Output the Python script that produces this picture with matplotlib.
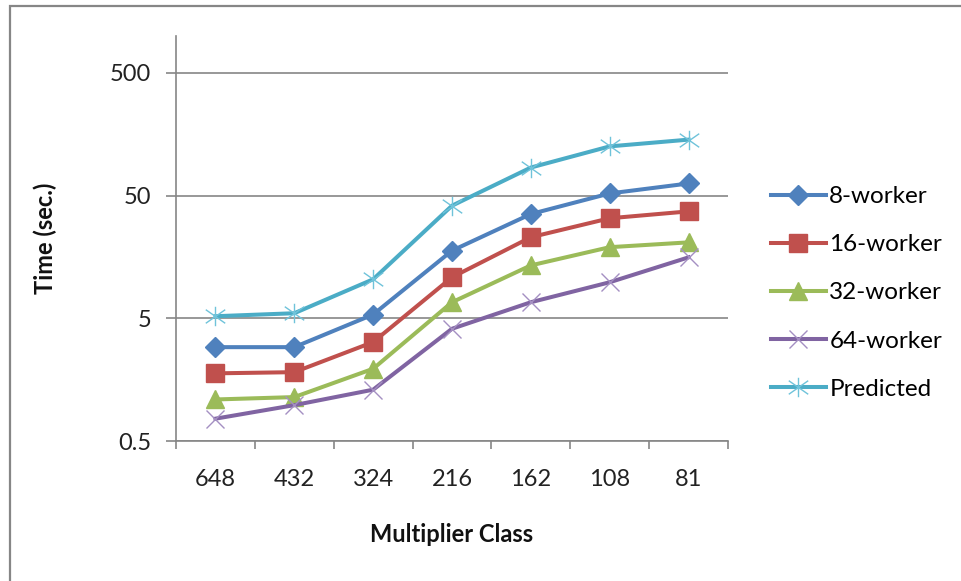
import matplotlib
matplotlib.use("Agg")
import matplotlib.pyplot as plt
from matplotlib.patches import Rectangle
from matplotlib.path import Path
from matplotlib.ticker import FixedLocator, NullLocator

plt.rcParams['font.family'] = ['Lato', 'DejaVu Sans']

classes = ["648", "432", "324", "216", "162", "108", "81"]
w8 = [2.91, 2.91, 5.37, 17.8, 35.4, 52.1, 62.8]
w16 = [1.78, 1.82, 3.2, 10.8, 22.9, 32.7, 37.2]
w32 = [1.09, 1.14, 1.94, 6.76, 13.5, 19.0, 20.8]
w64 = [0.76, 0.98, 1.31, 4.11, 6.76, 9.84, 15.7]
predicted = [5.2, 5.5, 10.4, 41.4, 84.7, 126, 143]

y_ticks = [0.5, 5, 50, 500]
grey = "#868686"

# asterisk-style marker: x with a vertical bar
star = Path([(-1, -0.7), (1, 0.7), (-1, 0.7), (1, -0.7), (0, -1), (0, 1)],
            [Path.MOVETO, Path.LINETO, Path.MOVETO, Path.LINETO,
             Path.MOVETO, Path.LINETO])

fig = plt.figure(figsize=(9.61, 5.81), dpi=100)
ax = fig.add_axes([176 / 961, 1 - 441 / 581, 552 / 961, 405 / 581])

x = range(len(classes))
lw = 2.9
ax.plot(x, w8, color="#4F81BD", lw=lw, marker="D", ms=10.5,
        label="8-worker", zorder=3)
ax.plot(x, w16, color="#C0504D", lw=lw, marker="s", ms=13.5,
        label="16-worker", zorder=3)
ax.plot(x, w32, color="#9BBB59", lw=lw, marker="^", ms=13,
        label="32-worker", zorder=3)
ax.plot(x, w64, color="#8064A2", lw=lw, marker="x", ms=13, mew=1,
        mec="#A48FC2", label="64-worker", zorder=3)
ax.plot(x, predicted, color="#4BACC6", lw=lw, marker=star, ms=14, mew=1,
        mfc="none", mec="#6FC3DA", label="Predicted", zorder=3)

ax.set_yscale("log")
ax.set_ylim(0.5, 1000)
ax.yaxis.set_major_locator(FixedLocator(y_ticks))
ax.yaxis.set_minor_locator(NullLocator())
ax.set_yticklabels(["0.5", "5", "50", "500"])
ax.grid(axis="y", color=grey, lw=1.2)
ax.set_axisbelow(True)

ax.set_xlim(-0.5, len(classes) - 0.5)
ax.set_xticks(list(x))
ax.set_xticklabels(classes)
ax.xaxis.set_minor_locator(FixedLocator([i - 0.5 for i in range(len(classes) + 1)]))
ax.tick_params(axis="x", which="major", length=0, pad=20, labelsize=17,
               colors="#222222")
ax.tick_params(axis="x", which="minor", length=6, width=1.2, color=grey,
               direction="out")
ax.tick_params(axis="y", which="major", length=7, width=1.2, color=grey,
               pad=11, labelsize=17, labelcolor="#222222")

for side in ["top", "right"]:
    ax.spines[side].set_visible(False)
for side in ["left", "bottom"]:
    ax.spines[side].set_color(grey)
    ax.spines[side].set_linewidth(1.2)

fig.text(45 / 961, 1 - 238 / 581, "Time (sec.)", rotation=90, ha="center",
         va="center", fontsize=17, fontweight="bold", color="#111111")
fig.text(452 / 961, 1 - 535 / 581, "Multiplier Class", ha="center",
         va="center", fontsize=17, fontweight="bold", color="#111111")

ax.legend(loc="upper left", bbox_to_anchor=(771 / 961, 1 - 186 / 581),
          bbox_transform=fig.transFigure, frameon=False, fontsize=17.5,
          handlelength=2.25, handletextpad=0.15, labelspacing=1.12,
          borderaxespad=0, borderpad=0)

# chart-area border, running off the right and bottom edges
fig.add_artist(Rectangle((10 / 961, -0.05), 1.1, 1.05 - 6 / 581,
                         transform=fig.transFigure, fill=False,
                         edgecolor=grey, lw=1.6, clip_on=False))

fig.savefig("out.png", dpi=100)
